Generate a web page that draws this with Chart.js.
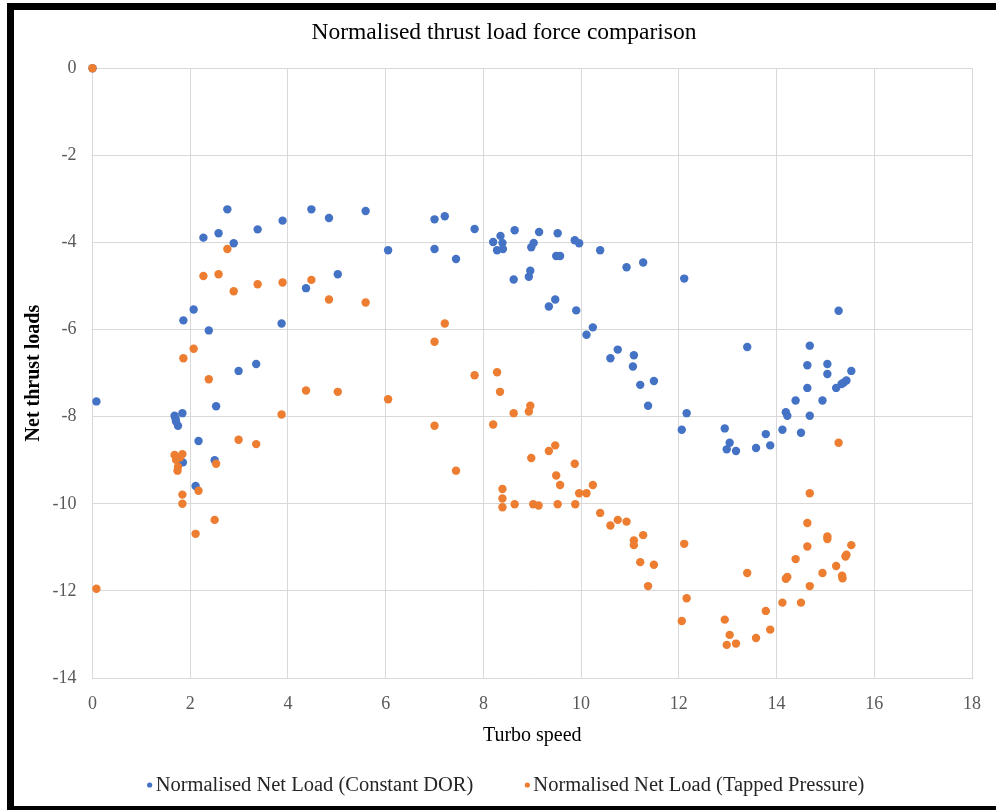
<!DOCTYPE html>
<html>
<head>
<meta charset="utf-8">
<script src="https://cdn.jsdelivr.net/npm/chart.js@4/dist/chart.umd.min.js"></script>
<style>
  html, body { margin: 0; padding: 0; background: #fff; }
  #wrap { position: relative; width: 996px; height: 810px; overflow: hidden; }
  #chart { position: absolute; left: 0; top: 0; }
  .edge { position: absolute; background: #000; }
</style>
</head>
<body>
<div id="wrap">
  <canvas id="chart" width="996" height="810"></canvas>
  <div class="edge" style="left:7px;top:3px;width:989px;height:7px"></div>
  <div class="edge" style="left:7px;top:3px;width:7px;height:807px"></div>
  <div class="edge" style="left:7px;top:806px;width:989px;height:4px"></div>
</div>
<script>
// Turbo speed / normalised load readings
const dorSpeed = [0, 0.08, 1.68, 1.70, 1.71, 1.75, 1.84, 1.85, 1.86, 2.07, 2.11, 2.17, 2.27, 2.38, 2.50, 2.53, 2.58, 2.76, 2.89, 2.99,
  3.35, 3.38, 3.87, 3.89, 4.37, 4.48, 4.84, 5.02, 5.59, 6.05, 7.00, 7.00, 7.21, 7.44, 7.82, 8.20, 8.28, 8.35, 8.39, 8.40,
  8.62, 8.64, 8.93, 8.96, 8.98, 9.03, 9.14, 9.34, 9.47, 9.49, 9.52, 9.57, 9.87, 9.90, 9.96, 10.11, 10.24, 10.39, 10.60, 10.75,
  10.93, 11.06, 11.08, 11.21, 11.27, 11.37, 11.49, 12.06, 12.11, 12.16, 12.94, 12.98, 13.04, 13.17, 13.40, 13.58, 13.78, 13.87, 14.12, 14.19,
  14.22, 14.39, 14.50, 14.63, 14.63, 14.68, 14.68, 14.94, 15.04, 15.04, 15.22, 15.27, 15.33, 15.37, 15.43, 15.53];
const dorLoad = [0, -7.65, -7.98, -8.05, -8.11, -8.21, -7.92, -9.05, -5.79, -5.54, -9.59, -8.56, -3.89, -6.02, -9.00, -7.76, -3.79, -3.24, -4.02, -6.95,
  -6.79, -3.70, -5.86, -3.50, -5.05, -3.24, -3.44, -4.73, -3.28, -4.18, -3.47, -4.15, -3.40, -4.38, -3.69, -3.99, -4.18, -3.85, -4.01, -4.15,
  -4.85, -3.72, -4.79, -4.65, -4.11, -4.01, -3.76, -5.47, -5.31, -4.31, -3.79, -4.31, -3.95, -5.56, -4.02, -6.12, -5.95, -4.18, -6.66, -6.46,
  -4.57, -6.85, -6.59, -7.27, -4.46, -7.75, -7.18, -8.30, -4.83, -7.92, -8.27, -8.75, -8.60, -8.79, -6.40, -8.72, -8.40, -8.66, -8.30, -7.90,
  -7.98, -7.63, -8.37, -6.82, -7.34, -6.37, -7.98, -7.63, -6.79, -7.02, -7.34, -5.57, -7.25, -7.22, -7.17, -6.95];

const tapSpeed = [0, 0.08, 1.68, 1.71, 1.74, 1.75, 1.79, 1.84, 1.84, 1.84, 1.86, 2.07, 2.11, 2.17, 2.27, 2.38, 2.50, 2.53, 2.58, 2.76,
  2.89, 2.99, 3.35, 3.38, 3.87, 3.89, 4.37, 4.48, 4.84, 5.02, 5.59, 6.05, 7.00, 7.00, 7.21, 7.44, 7.82, 8.20, 8.28, 8.34,
  8.39, 8.39, 8.39, 8.62, 8.64, 8.93, 8.96, 8.98, 9.02, 9.13, 9.34, 9.47, 9.49, 9.52, 9.57, 9.87, 9.88, 9.96, 10.11, 10.24,
  10.39, 10.60, 10.75, 10.93, 11.08, 11.08, 11.21, 11.27, 11.37, 11.49, 12.06, 12.11, 12.16, 12.94, 12.98, 13.04, 13.17, 13.40, 13.58, 13.78,
  13.87, 14.12, 14.19, 14.22, 14.39, 14.50, 14.63, 14.63, 14.68, 14.68, 14.94, 15.04, 15.04, 15.22, 15.27, 15.34, 15.35, 15.41, 15.43, 15.53];
const tapLoad = [0, -11.95, -8.88, -8.99, -9.24, -9.15, -8.94, -8.86, -9.79, -10.00, -6.66, -6.44, -10.69, -9.70, -4.77, -7.14, -10.37, -9.08, -4.73, -4.15,
  -5.12, -8.53, -8.63, -4.96, -7.95, -4.92, -7.40, -4.86, -5.31, -7.43, -5.38, -7.60, -6.28, -8.21, -5.86, -9.24, -7.05, -8.18, -6.98, -7.43,
  -9.66, -9.88, -10.08, -7.92, -10.01, -7.88, -7.75, -8.95, -10.01, -10.04, -8.79, -8.66, -9.35, -10.01, -9.57, -9.08, -10.01, -9.76, -9.76, -9.57,
  -10.21, -10.50, -10.37, -10.41, -10.84, -10.95, -11.34, -10.72, -11.89, -11.40, -12.69, -10.92, -12.17, -12.66, -13.24, -13.01, -13.21, -11.59, -13.08, -12.46,
  -12.89, -12.27, -11.72, -11.68, -11.27, -12.27, -10.44, -10.98, -9.76, -11.89, -11.59, -10.75, -10.81, -11.43, -8.60, -11.65, -11.71, -11.21, -11.17, -10.95];

const seriesNames = ["Normalised Net Load (Constant DOR)", "Normalised Net Load (Tapped Pressure)"];
const seriesColors = ["#4472C4", "#ED7D31"];

const toPoints = (xs, ys) => xs.map((x, i) => ({ x: x, y: ys[i] }));

const serif = "'Liberation Serif', 'Times New Roman', serif";

// legend drawn by hand so the gap between the two entries matches
const bottomLegend = {
  id: "bottomLegend",
  afterDraw(chart) {
    const c = chart.ctx;
    c.save();
    c.font = "20.5px " + serif;
    c.textBaseline = "middle";
    const gap = 52, dotGap = 8;
    const widths = chart.data.datasets.map((d) => c.measureText(d.label).width + dotGap);
    const total = widths.reduce((a, b) => a + b, 0) + gap;
    let x = 506 - total / 2;
    const y = 786;
    chart.data.datasets.forEach((d, i) => {
      c.fillStyle = d.backgroundColor;
      c.beginPath();
      c.arc(x + 2, y - 1, 2.6, 0, Math.PI * 2);
      c.fill();
      c.fillStyle = "#262626";
      c.fillText(d.label, x + dotGap, y);
      x += widths[i] + gap;
    });
    c.restore();
  },
};

new Chart(document.getElementById("chart"), {
  type: "scatter",
  data: {
    datasets: [
      {
        label: seriesNames[0],
        data: toPoints(dorSpeed, dorLoad),
        backgroundColor: seriesColors[0],
        borderColor: seriesColors[0],
        borderWidth: 0,
        pointRadius: 4.2,
        order: 2,
        clip: false,
      },
      {
        label: seriesNames[1],
        data: toPoints(tapSpeed, tapLoad),
        backgroundColor: seriesColors[1],
        borderColor: seriesColors[1],
        borderWidth: 0,
        pointRadius: 4.2,
        order: 1,
        clip: false,
      },
    ],
  },
  options: {
    responsive: false,
    animation: false,
    layout: { padding: { left: 31, right: 19, top: 19, bottom: 42 } },
    plugins: {
      legend: { display: false },
      tooltip: { enabled: false },
      title: {
        display: true,
        text: "Normalised thrust load force comparison",
        color: "#000",
        font: { family: serif, size: 23.5, weight: "normal" },
        padding: { top: 0, bottom: 21 },
      },
    },
    scales: {
      x: {
        type: "linear",
        min: 0,
        max: 18,
        afterFit: (s) => { s.height = 90; },
        ticks: { stepSize: 2, padding: 15, color: "#595959", font: { family: serif, size: 18 } },
        grid: { color: "#d9d9d9", drawTicks: false },
        border: { color: "#d9d9d9" },
        title: {
          display: true,
          text: "Turbo speed",
          color: "#000",
          font: { family: serif, size: 20 },
          padding: { top: 0, bottom: 20 },
        },
      },
      y: {
        type: "linear",
        min: -14,
        max: 0,
        afterFit: (s) => { s.width = 61.5; },
        ticks: { stepSize: 2, padding: 16, color: "#595959", font: { family: serif, size: 18 } },
        grid: { color: "#d9d9d9", drawTicks: false },
        border: { color: "#d9d9d9" },
        title: {
          display: true,
          text: "Net thrust loads",
          color: "#000",
          font: { family: serif, size: 20, weight: "bold" },
          padding: { top: -9, bottom: 0 },
        },
      },
    },
  },
  plugins: [bottomLegend],
});
</script>
</body>
</html>
